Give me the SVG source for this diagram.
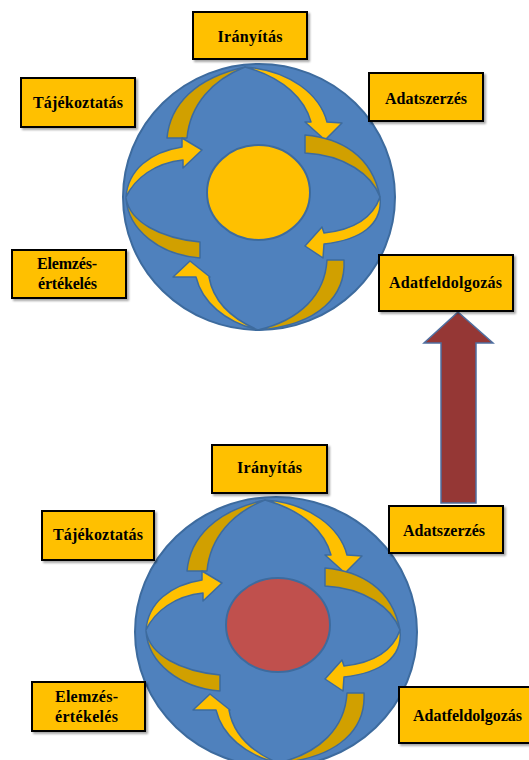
<svg xmlns="http://www.w3.org/2000/svg" xmlns:xlink="http://www.w3.org/1999/xlink" width="529" height="760" viewBox="0 0 529 760">
<style>
.bg{fill:#4F81BD;stroke:#3D6B9E;stroke-width:2}
.core-y{fill:#FFC000;stroke:#3D6B9E;stroke-width:2}
.core-r{fill:#C0504D;stroke:#3D6B9E;stroke-width:2}
.dk{fill:#D1A000;stroke:#3D6B9E;stroke-width:1.5;stroke-linejoin:round}
.br{fill:#FFC000;stroke:#3D6B9E;stroke-width:1.5;stroke-linejoin:round}
.box{fill:#FFC000;stroke:#000;stroke-width:2;filter:url(#sh)}
.lbl{font-family:"Liberation Serif","Times New Roman",serif;font-weight:bold;font-size:16px;fill:#000;text-anchor:middle}
.big{fill:#953735;stroke:#4F6FA0;stroke-width:1.5;stroke-linejoin:miter}
</style>
<defs>
<filter id="sh" x="-10%" y="-10%" width="130%" height="140%">
<feGaussianBlur in="SourceAlpha" stdDeviation="1.2"/>
<feOffset dx="2" dy="2" result="o"/>
<feComponentTransfer><feFuncA type="linear" slope="0.35"/></feComponentTransfer>
<feMerge><feMergeNode/><feMergeNode in="SourceGraphic"/></feMerge>
</filter>
<g id="cyc">
<path class="dk" d="M167,138 C170,105 195,78 245,67 C212,80 190,105 187,138 Z"/>
<path class="br" d="M245,67 C290,70 320,95 327,122 L342,123 L325,140 L305,122 L311,122 C305,100 285,78 245,67 Z"/>
<path class="dk" d="M305,135 C340,138 372,155 380,197 C372,175 345,155 305,153 Z"/>
<path class="br" d="M380,197 C383,225 360,240 324,244 L323,258 L305,246 L322,227 L324,233 C352,230 372,220 380,197 Z"/>
<path class="dk" d="M344,260 C346,295 320,325 258,330 C300,320 325,295 327,260 Z"/>
<path class="br" d="M258,330 C225,322 202,302 196,277 L173,277 L190,261 L210,277 L209,277 C213,300 230,318 258,330 Z"/>
<path class="dk" d="M200,242 C160,238 130,222 126,198 C128,230 160,255 200,258 Z"/>
<path class="br" d="M126,197 C128,170 150,152 182,147 L182,138 L202,150 L183,168 L183,160 C155,163 135,178 126,197 Z"/>
</g>
</defs>

<g id="cycle-top">
<ellipse class="bg" cx="259" cy="197" rx="136" ry="133"/>
<use xlink:href="#cyc" href="#cyc"/>
<ellipse class="core-y" cx="258.5" cy="192.5" rx="51.5" ry="47.5"/>
</g>

<g id="cycle-bottom">
<ellipse class="bg" cx="276" cy="632" rx="141" ry="135"/>
<use xlink:href="#cyc" href="#cyc" transform="translate(20,433)"/>
<ellipse class="core-r" cx="278" cy="625" rx="52" ry="47"/>
</g>

<g id="connectors">
<polygon class="big" points="458,312 493,343 476,343 476,503 441,503 441,343 424,343"/>
</g>

<g id="iranyitas-1"><rect class="box" x="193" y="12" width="114" height="47"/><text class="lbl" x="250" y="42" textLength="65" lengthAdjust="spacing">Irányítás</text></g>
<g id="tajekoztatas-1"><rect class="box" x="21" y="78" width="114" height="49"/><text class="lbl" x="78" y="108" textLength="90" lengthAdjust="spacing">Tájékoztatás</text></g>
<g id="adatszerzes-1"><rect class="box" x="369" y="73" width="114" height="48"/><text class="lbl" x="426" y="104" textLength="82" lengthAdjust="spacing">Adatszerzés</text></g>
<g id="elemzes-1"><rect class="box" x="12" y="250" width="114" height="48"/><text class="lbl" x="67" y="269" textLength="60" lengthAdjust="spacing">Elemzés-</text><text class="lbl" x="67.5" y="289" textLength="59" lengthAdjust="spacing">értékelés</text></g>
<g id="adatfeldolgozas-1"><rect class="box" x="379" y="255" width="134" height="56"/><text class="lbl" x="445.5" y="288" textLength="113" lengthAdjust="spacing">Adatfeldolgozás</text></g>

<g id="iranyitas-2"><rect class="box" x="212" y="445" width="115" height="48"/><text class="lbl" x="269.5" y="473" textLength="65" lengthAdjust="spacing">Irányítás</text></g>
<g id="tajekoztatas-2"><rect class="box" x="42" y="511" width="112" height="49"/><text class="lbl" x="98" y="540" textLength="90" lengthAdjust="spacing">Tájékoztatás</text></g>
<g id="adatszerzes-2"><rect class="box" x="389" y="506" width="114" height="47"/><text class="lbl" x="444" y="536" textLength="82" lengthAdjust="spacing">Adatszerzés</text></g>
<g id="elemzes-2"><rect class="box" x="32" y="682" width="113" height="49"/><text class="lbl" x="86.5" y="702" textLength="63" lengthAdjust="spacing">Elemzés-</text><text class="lbl" x="86.5" y="722" textLength="63" lengthAdjust="spacing">értékelés</text></g>
<g id="adatfeldolgozas-2"><rect class="box" x="399" y="687" width="136" height="56"/><text class="lbl" x="467.5" y="721" textLength="109" lengthAdjust="spacing">Adatfeldolgozás</text></g>
</svg>
